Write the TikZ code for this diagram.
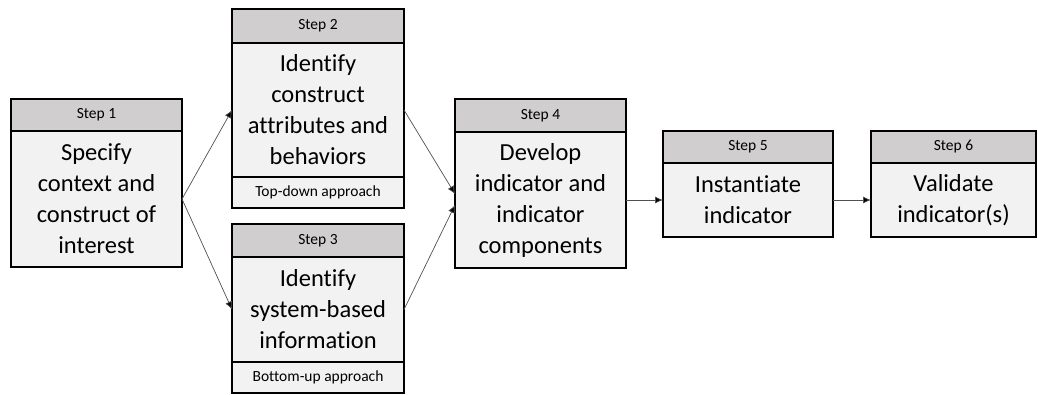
\documentclass[tikz,border=0pt]{standalone}
\usepackage{fontspec}
\setmainfont[Ligatures={NoCommon}]{Carlito}
\usetikzlibrary{arrows.meta,positioning}
\definecolor{hdrgrey}{HTML}{D0CECE}
\definecolor{bodygrey}{HTML}{F2F2F2}
\definecolor{linkgrey}{HTML}{505050}
\tikzset{
  boxbase/.style={draw=black, line width=1.4pt, inner sep=0pt, outer sep=0pt, anchor=north west, align=center},
  hdr/.style={boxbase, fill=hdrgrey, font=\fontsize{15.5}{18}\selectfont},
  bodybox/.style={boxbase, fill=bodygrey, font=\fontsize{24.5}{31}\selectfont},
  ftr/.style={boxbase, fill=bodygrey, font=\fontsize{15.5}{18}\selectfont},
  link/.style={draw=linkgrey, line width=0.7pt, -{Latex[length=8pt,width=7pt,fill=black]}}
}
\begin{document}
\begin{tikzpicture}[x=1pt,y=-1pt]
\useasboundingbox (0,0) rectangle (1038,394);
% Step 1
\node[hdr, minimum width=171pt, minimum height=32pt] (s1h) at (11,99) {Step 1};
\node[bodybox, minimum width=171pt, minimum height=136pt] (s1b) at (11,131) {Specify\\context and\\construct of\\interest};
% Step 2
\node[hdr, minimum width=172pt, minimum height=34pt] (s2h) at (232,9) {Step 2};
\node[bodybox, minimum width=172pt, minimum height=134pt] (s2b) at (232,43) {Identify\\construct\\attributes and\\behaviors};
\node[ftr, minimum width=172pt, minimum height=31pt] (s2f) at (232,177) {Top-down approach};
% Step 3
\node[hdr, minimum width=172pt, minimum height=33pt] (s3h) at (232,224) {Step 3};
\node[bodybox, minimum width=172pt, minimum height=105pt] (s3b) at (232,257) {Identify\\system-based\\information};
\node[ftr, minimum width=172pt, minimum height=31pt] (s3f) at (232,362) {Bottom-up approach};
% Step 4
\node[hdr, minimum width=171pt, minimum height=33pt] (s4h) at (455,99) {Step 4};
\node[bodybox, minimum width=171pt, minimum height=136pt] (s4b) at (455,132) {Develop\\indicator and\\indicator\\components};
% Step 5
\node[hdr, minimum width=170pt, minimum height=32pt] (s5h) at (663,131) {Step 5};
\node[bodybox, minimum width=170pt, minimum height=74pt] (s5b) at (663,163) {Instantiate\\indicator};
% Step 6
\node[hdr, minimum width=165pt, minimum height=32pt] (s6h) at (871,131) {Step 6};
\node[bodybox, minimum width=165pt, minimum height=74pt] (s6b) at (871,163) {Validate\\indicator(s)};
% connectors
\draw[link] (s1b.east) -- (s2b.west);
\draw[link] (s1b.east) -- (s3b.west);
\draw[link] (s2b.east) -- ([yshift=6pt]s4b.west);
\draw[link] (s3b.east) -- ([yshift=-5pt]s4b.west);
\draw[link] (s4b.east) -- (s5b.west);
\draw[link] (s5b.east) -- (s6b.west);
\end{tikzpicture}
\end{document}
